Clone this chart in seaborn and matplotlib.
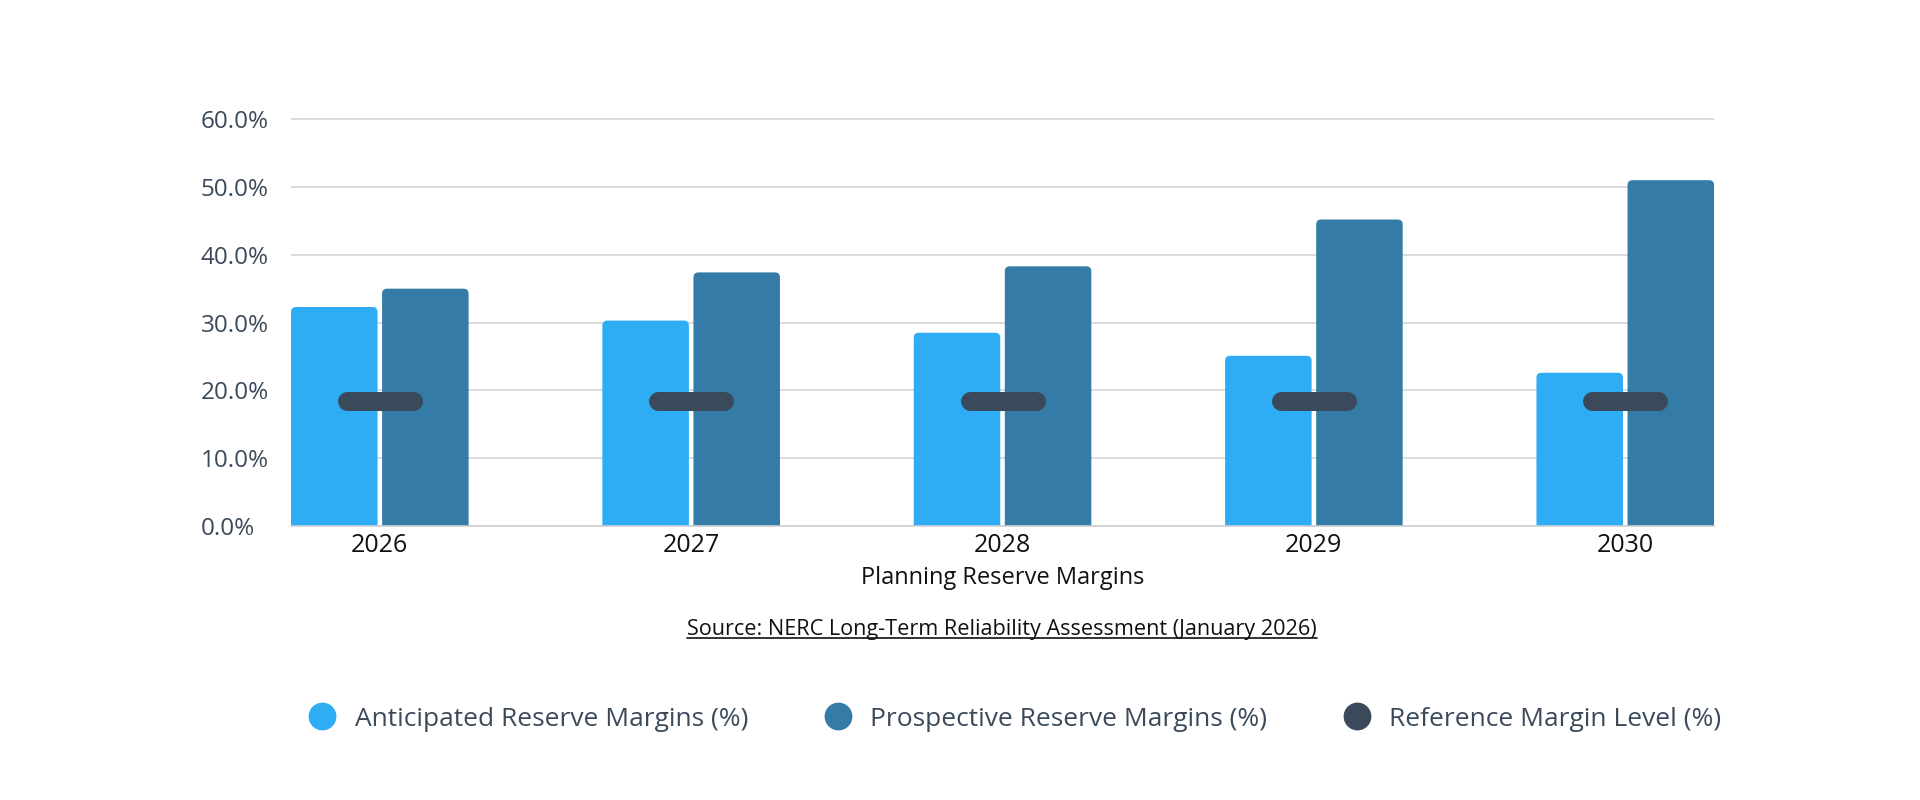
import matplotlib
matplotlib.use("Agg")
import matplotlib.pyplot as plt
from matplotlib.patches import FancyBboxPatch
from matplotlib.lines import Line2D
import pandas as pd
import seaborn as sns

# data
years = ["2026", "2027", "2028", "2029", "2030"]
anticipated = [32.3, 30.3, 28.5, 25.1, 22.6]
prospective = [35.0, 37.4, 38.3, 45.2, 51.0]
reference = [18.4, 18.4, 18.4, 18.4, 18.4]
series_names = ["Anticipated Reserve Margins (%)", "Prospective Reserve Margins (%)",
                "Reference Margin Level (%)"]
y_ticks = [0, 10, 20, 30, 40, 50, 60]

c_ant = "#2eadf5"
c_pro = "#347ba8"
c_ref = "#3a4a5a"
c_txt = "#3b4a5b"

df = pd.DataFrame({
    "Year": years * 2,
    "Value": anticipated + prospective,
    "Series": [series_names[0]] * len(years) + [series_names[1]] * len(years),
})

sns.set_theme(style="white")
plt.rcParams["font.family"] = ["Open Sans", "DejaVu Sans"]

fig = plt.figure(figsize=(19.2, 8), dpi=100)
ax = fig.add_axes([0.1516, 0.3425, 0.7411, 0.517])

sns.barplot(data=df, x="Year", y="Value", hue="Series", order=years,
            palette=[c_ant, c_pro], width=0.585, gap=0.05, ax=ax,
            legend=False, saturation=1)

ax.set_xlim(-0.285, len(years) - 1 + 0.285)
ax.set_ylim(0, 61)

# rounded tops on the bars
x_per_px = (ax.get_xlim()[1] - ax.get_xlim()[0]) / (0.7411 * 1920)
y_per_px = 61 / (0.517 * 800)
aspect = y_per_px / x_per_px
rad = 5 * x_per_px
for p in list(ax.patches):
    x, w, h = p.get_x(), p.get_width(), p.get_height()
    fb = FancyBboxPatch((x, -2), w, h + 2,
                        boxstyle=f"round,pad=0,rounding_size={rad}",
                        mutation_aspect=aspect, fc=p.get_facecolor(),
                        ec="none", zorder=2)
    ax.add_patch(fb)
    p.remove()

# reference level markers
for i, v in enumerate(reference):
    ax.plot([i - 0.106, i + 0.106], [v, v], color=c_ref, lw=13.7,
            solid_capstyle="round", zorder=4)

ax.set_yticks(y_ticks)
ax.set_yticklabels([f"{t:.1f}%" for t in y_ticks])
ax.yaxis.grid(True, color="#d4d4d6", lw=1.2)
ax.set_axisbelow(True)
for s in ["top", "right", "left"]:
    ax.spines[s].set_visible(False)
ax.spines["bottom"].set_color("#cfcfd2")
ax.spines["bottom"].set_linewidth(1.2)

ax.tick_params(axis="y", length=0, pad=65, labelsize=17.5, labelcolor=c_txt)
for lab in ax.get_yticklabels():
    lab.set_horizontalalignment("left")
ax.tick_params(axis="x", length=0, pad=5, labelsize=18, labelcolor="#111111")

ax.set_xlabel("Planning Reserve Margins", fontsize=17, color="#111111", labelpad=6)
ax.set_ylabel("")

src = fig.text(0.522, 1 - 629 / 800,
               "Source: NERC Long-Term Reliability Assessment (January 2026)",
               ha="center", va="center", fontsize=15.6, color="#111111")
# underline for the source text
fig.canvas.draw()
bb = src.get_window_extent()
fig.add_artist(Line2D([bb.x0 / 1920, bb.x1 / 1920], [(bb.y0 + 2) / 800] * 2,
                      color="#111111", lw=1.2))

handles = [Line2D([], [], marker="o", ls="", markersize=19, color=c)
           for c in [c_ant, c_pro, c_ref]]
leg = fig.legend(handles, series_names, loc="center", ncol=3,
                 bbox_to_anchor=(1015 / 1920, 1 - 719 / 800), frameon=False,
                 fontsize=19, handlelength=1.0, handletextpad=0.72,
                 columnspacing=2.9)
for t in leg.get_texts():
    t.set_color(c_txt)

fig.savefig("out.png", dpi=100, facecolor="white")
